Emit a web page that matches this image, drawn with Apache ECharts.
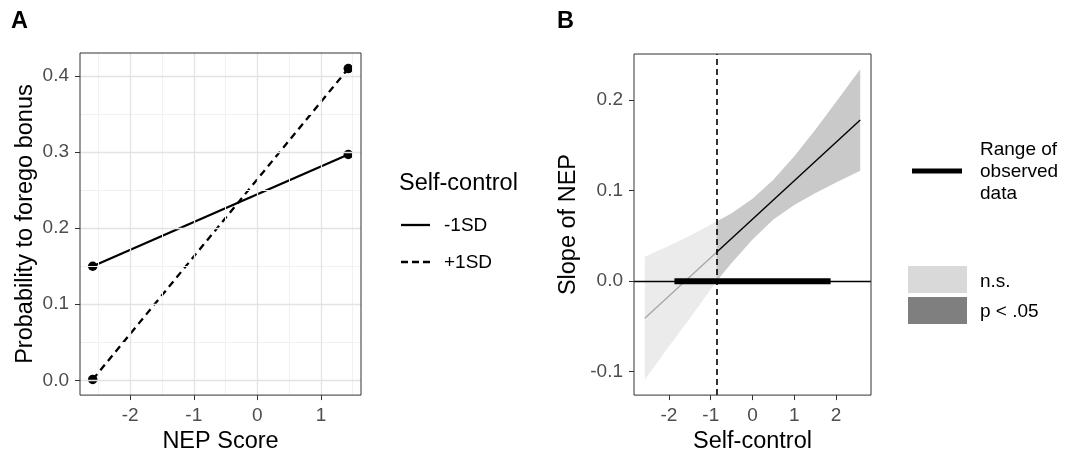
<!DOCTYPE html>
<html><head><meta charset="utf-8">
<script src="https://cdn.jsdelivr.net/npm/echarts@6/dist/echarts.min.js"></script>
<style>html,body{margin:0;padding:0;background:#fff}#c{width:1075px;height:459px}</style>
</head><body><div id="c"></div>
<script>
// ---------- Panel A data ----------
const nepX = [-2.59, 1.43];
const probMinus1SD = [0.150, 0.297];
const probPlus1SD = [0.001, 0.410];
const aTicksX = [-2, -1, 0, 1];
const aTicksY = [0, 0.1, 0.2, 0.3, 0.4];
const aMinorX = [-2.5, -1.5, -0.5, 0.5, 1.5];
const aMinorY = [0.05, 0.15, 0.25, 0.35];

// ---------- Panel B data ----------
const scX     = [-2.58, -2.0, -1.5, -0.86, -0.5, 0, 0.5, 1.0, 1.5, 2.0, 2.58];
const ciUpper = [0.027, 0.039, 0.050, 0.066, 0.075, 0.091, 0.112, 0.138, 0.167, 0.198, 0.234];
const ciLower = [-0.109, -0.072, -0.041, 0.000, 0.020, 0.046, 0.068, 0.084, 0.097, 0.109, 0.122];
const nsEnd = 3; // index where significance begins
const slopeX = [-2.58, -0.86, 2.58];
const slopeY = [-0.041, 0.032, 0.178];
const jnPoint = -0.86;
const observedRange = [-1.87, 1.87];
const bTicksX = [-2, -1, 0, 1, 2];
const bTicksY = [-0.1, 0, 0.1, 0.2];

const FONT = 'Liberation Sans, Arial, sans-serif';
const TICK_FS = 19, TITLE_FS = 23.5;

function axisCommon(ticks, fmt, margin) {
  return {
    type: 'value',
    axisLine: { show: false, onZero: false },
    splitLine: { show: false },
    axisTick: { show: true, inside: false, length: 5, customValues: ticks, lineStyle: { color: '#333', width: 1 } },
    axisLabel: { show: true, customValues: ticks, formatter: fmt, color: '#4d4d4d', fontSize: TICK_FS, fontFamily: FONT, margin: margin },
    nameTextStyle: { color: '#000', fontSize: TITLE_FS, fontFamily: FONT }
  };
}
const fmt1 = v => Number(v).toFixed(1);
const fmtInt = v => String(Math.round(v));

function band(i0, i1, color) {
  return {
    type: 'custom', xAxisIndex: 1, yAxisIndex: 1, z: 1, silent: true,
    data: [[scX[i0], ciLower[i0]]],
    renderItem: function (params, api) {
      const pts = [];
      for (let i = i0; i <= i1; i++) pts.push(api.coord([scX[i], ciUpper[i]]));
      for (let i = i1; i >= i0; i--) pts.push(api.coord([scX[i], ciLower[i]]));
      return { type: 'polygon', shape: { points: pts }, style: { fill: color } };
    }
  };
}

const gridMarks = [];
aMinorX.forEach(v => gridMarks.push({ xAxis: v, lineStyle: { color: '#f1f1f1', width: 1, type: 'solid' } }));
aMinorY.forEach(v => gridMarks.push({ yAxis: v, lineStyle: { color: '#f1f1f1', width: 1, type: 'solid' } }));
aTicksX.forEach(v => gridMarks.push({ xAxis: v, lineStyle: { color: '#e3e3e3', width: 1.3, type: 'solid' } }));
aTicksY.forEach(v => gridMarks.push({ yAxis: v, lineStyle: { color: '#e3e3e3', width: 1.3, type: 'solid' } }));

const option = {
  animation: false,
  backgroundColor: '#fff',
  textStyle: { fontFamily: FONT },
  grid: [
    { left: 80, top: 53, width: 281, height: 345, show: true, borderColor: '#333', borderWidth: 1, backgroundColor: 'transparent', z: 10 },
    { left: 634, top: 54, width: 237, height: 343, show: true, borderColor: '#333', borderWidth: 1, backgroundColor: 'transparent', z: 10 }
  ],
  xAxis: [
    Object.assign(axisCommon(aTicksX, fmtInt, 11), { gridIndex: 0, min: -2.79, max: 1.63, name: 'NEP Score', nameLocation: 'middle', nameGap: 32 }),
    Object.assign(axisCommon(bTicksX, fmtInt, 11), { gridIndex: 1, min: -2.838, max: 2.838, name: 'Self-control', nameLocation: 'middle', nameGap: 34 })
  ],
  yAxis: [
    Object.assign(axisCommon(aTicksY, fmt1, 11), { gridIndex: 0, min: -0.0195, max: 0.4305, name: 'Probability to forego bonus', nameLocation: 'middle', nameGap: 42 }),
    Object.assign(axisCommon(bTicksY, fmt1, 11), { gridIndex: 1, min: -0.1259, max: 0.2509, name: 'Slope of NEP', nameLocation: 'middle', nameGap: 53 })
  ],
  series: [
    // Panel A gridlines
    {
      type: 'line', xAxisIndex: 0, yAxisIndex: 0, z: 0, silent: true, symbol: 'none',
      lineStyle: { opacity: 0 }, data: nepX.map((x, i) => [x, probMinus1SD[i]]),
      markLine: { silent: true, symbol: ['none', 'none'], label: { show: false }, animation: false, data: gridMarks }
    },
    {
      name: '-1SD', type: 'line', xAxisIndex: 0, yAxisIndex: 0, z: 3,
      data: nepX.map((x, i) => [x, probMinus1SD[i]]),
      symbol: 'circle', symbolSize: 9.5, itemStyle: { color: '#000', borderWidth: 0 },
      lineStyle: { color: '#000', width: 2.3 }
    },
    {
      name: '+1SD', type: 'line', xAxisIndex: 0, yAxisIndex: 0, z: 3,
      data: nepX.map((x, i) => [x, probPlus1SD[i]]),
      symbol: 'circle', symbolSize: 9.5, itemStyle: { color: '#000', borderWidth: 0 },
      lineStyle: { color: '#000', width: 2.3, type: [7, 5] }
    },
    // Panel B
    band(0, nsEnd, '#ebebeb'),
    band(nsEnd, scX.length - 1, '#c9c9c9'),
    {
      type: 'line', xAxisIndex: 1, yAxisIndex: 1, z: 2, symbol: 'none', silent: true,
      data: [[slopeX[0], slopeY[0]], [slopeX[1], slopeY[1]]],
      lineStyle: { color: '#a6a6a6', width: 1.3 }
    },
    {
      type: 'line', xAxisIndex: 1, yAxisIndex: 1, z: 3, symbol: 'none', silent: true,
      data: [[slopeX[1], slopeY[1]], [slopeX[2], slopeY[2]]],
      lineStyle: { color: '#000', width: 1.4 },
      markLine: { silent: true, symbol: ['none', 'none'], label: { show: false }, animation: false,
        data: [{ yAxis: 0, lineStyle: { color: '#000', width: 1.3, type: 'solid' } }] }
    },
    {
      type: 'line', xAxisIndex: 1, yAxisIndex: 1, z: 4, symbol: 'none', silent: true,
      data: [[observedRange[0], 0], [observedRange[1], 0]],
      lineStyle: { color: '#000', width: 6, cap: 'butt' },
      markLine: { silent: true, symbol: ['none', 'none'], label: { show: false }, animation: false,
        data: [{ xAxis: jnPoint, lineStyle: { color: '#000', width: 1.6, type: [6, 4] } }] }
    }
  ],
  graphic: [
    { type: 'text', left: 11, top: 10, style: { text: 'A', font: 'bold 23.5px ' + FONT, fill: '#000' } },
    { type: 'text', left: 557, top: 10, style: { text: 'B', font: 'bold 23.5px ' + FONT, fill: '#000' } },
    // Legend A
    { type: 'text', x: 399, y: 184, style: { text: 'Self-control', font: '23.5px ' + FONT, fill: '#000', verticalAlign: 'middle' } },
    { type: 'line', shape: { x1: 401, y1: 225, x2: 430, y2: 225 }, style: { stroke: '#000', lineWidth: 2.3 } },
    { type: 'text', x: 444, y: 226, style: { text: '-1SD', font: '19px ' + FONT, fill: '#000', verticalAlign: 'middle' } },
    { type: 'line', shape: { x1: 401, y1: 262, x2: 430, y2: 262 }, style: { stroke: '#000', lineWidth: 2.3, lineDash: [7, 4] } },
    { type: 'text', x: 444, y: 263, style: { text: '+1SD', font: '19px ' + FONT, fill: '#000', verticalAlign: 'middle' } },
    // Legend B
    { type: 'line', shape: { x1: 912, y1: 171, x2: 962, y2: 171 }, style: { stroke: '#000', lineWidth: 5, lineCap: 'butt' } },
    { type: 'text', x: 980, y: 150, style: { text: 'Range of', font: '19px ' + FONT, fill: '#000', verticalAlign: 'middle' } },
    { type: 'text', x: 980, y: 172, style: { text: 'observed', font: '19px ' + FONT, fill: '#000', verticalAlign: 'middle' } },
    { type: 'text', x: 980, y: 194, style: { text: 'data', font: '19px ' + FONT, fill: '#000', verticalAlign: 'middle' } },
    { type: 'rect', shape: { x: 908, y: 266, width: 59, height: 27 }, style: { fill: '#d9d9d9' } },
    { type: 'rect', shape: { x: 908, y: 297, width: 59, height: 27 }, style: { fill: '#7f7f7f' } },
    { type: 'text', x: 980, y: 282, style: { text: 'n.s.', font: '19px ' + FONT, fill: '#000', verticalAlign: 'middle' } },
    { type: 'text', x: 980, y: 312, style: { text: 'p < .05', font: '19px ' + FONT, fill: '#000', verticalAlign: 'middle' } }
  ]
};

const chart = echarts.init(document.getElementById('c'), null, { renderer: 'canvas' });
chart.setOption(option);
</script>
</body></html>
